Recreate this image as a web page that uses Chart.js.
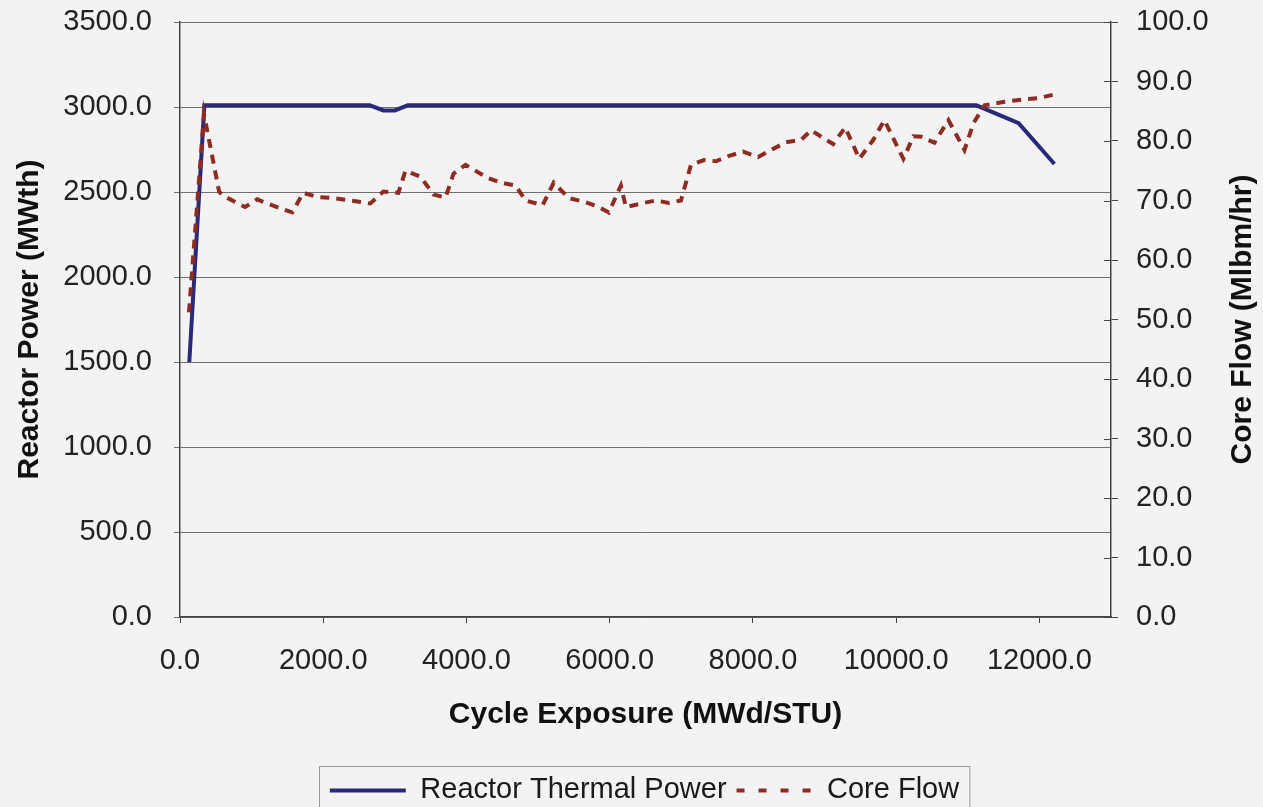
<!DOCTYPE html>
<html>
<head>
<meta charset="utf-8">
<title>Reactor Power and Core Flow</title>
<script src="https://cdn.jsdelivr.net/npm/chart.js@4/dist/chart.umd.min.js"></script>
<style>
  body { margin: 0; background: #f3f3f3; overflow: hidden; }
  #wrap { width: 1263px; height: 807px; overflow: hidden; }
</style>
</head>
<body>
<div id="wrap"><canvas id="chart" width="1263" height="814"></canvas></div>
<script>
// reactor thermal power vs cycle exposure
const powerExposure = [130, 340, 2650, 2840, 3000, 3180, 11120, 11710, 12210];
const reactorPower = [1500, 3010, 3010, 2980, 2980, 3010, 3010, 2905, 2665];

// core flow vs cycle exposure
const flowExposure = [
  125, 335, 546, 602, 909, 1077, 1329, 1567, 1721, 1917,
  2140, 2378, 2658, 2840, 3050, 3148, 3358, 3540, 3707, 3819,
  3987, 4295, 4477, 4687, 4827, 5064, 5218, 5428, 5638, 5834,
  5988, 6156, 6226, 6477, 6645, 6827, 6995, 7135, 7317, 7485,
  7667, 7862, 8072, 8254, 8464, 8674, 8814, 8982, 9121, 9289,
  9485, 9681, 9835, 10101, 10241, 10353, 10534, 10730, 10954, 11080,
  11234, 11514, 11794, 11989, 12199
];
const coreFlow = [
  51.2, 84.5, 71.5, 70.8, 68.9, 70.2, 69.0, 68.0, 71.3, 70.6,
  70.4, 70.0, 69.5, 71.5, 71.3, 75.0, 74.0, 71.0, 70.5, 74.5,
  76.0, 73.8, 73.0, 72.5, 70.0, 69.2, 73.0, 70.4, 69.8, 69.0,
  68.0, 72.5, 68.9, 69.6, 70.0, 69.6, 70.0, 76.0, 76.8, 76.6,
  77.5, 78.2, 77.3, 78.5, 79.8, 80.2, 81.8, 80.5, 79.5, 82.3,
  77.0, 80.2, 83.5, 77.0, 80.8, 80.7, 79.7, 83.5, 78.5, 83.0,
  86.0, 86.6, 87.0, 87.2, 87.8
];

// axis ticks
const xTickValues = [0, 2000, 4000, 6000, 8000, 10000, 12000];
const xMax = 13000;
const seriesNames = ['Reactor Thermal Power', 'Core Flow'];
const axisTitles = ['Cycle Exposure (MWd/STU)', 'Reactor Power (MWth)', 'Core Flow (Mlbm/hr)'];

const FONT = '"Liberation Sans", Arial, sans-serif';
const fmt = v => Number(v).toFixed(1);
const LEGEND_LINE = 76;

// keep the plot top where the reference has it
const fixVertical = width => s => {
  s.width = width;
  s.paddingTop = 22;
  s.paddingBottom = 20;
};

// extra drawing: inside ticks on right axis, vertical titles, legend samples and frame
const extras = {
  id: 'extras',
  afterDraw(chart) {
    const ctx = chart.ctx;
    const area = chart.chartArea;
    const y2 = chart.scales.y2;
    ctx.save();
    ctx.strokeStyle = '#444';
    ctx.lineWidth = 1;
    y2.ticks.forEach((t, i) => {
      const py = Math.round(y2.getPixelForTick(i)) + 0.5;
      ctx.beginPath();
      ctx.moveTo(y2.left - 7, py);
      ctx.lineTo(y2.left, py);
      ctx.stroke();
    });

    // both vertical titles read bottom to top
    ctx.fillStyle = '#111';
    ctx.font = 'bold 30px ' + FONT;
    ctx.textAlign = 'center';
    ctx.textBaseline = 'middle';
    const midY = (area.top + area.bottom) / 2;
    [[30, axisTitles[1]], [1243, axisTitles[2]]].forEach(([tx, text]) => {
      ctx.save();
      ctx.translate(tx, midY);
      ctx.rotate(-Math.PI / 2);
      ctx.fillText(text, 0, 0);
      ctx.restore();
    });

    // legend
    const boxes = chart.legend.legendHitBoxes;
    if (boxes && boxes.length) {
      chart.data.datasets.forEach((ds, i) => {
        const b = boxes[i];
        const ly = Math.round(b.top + b.height / 2) + 0.5;
        ctx.strokeStyle = ds.borderColor;
        ctx.lineWidth = ds.borderWidth;
        ctx.setLineDash(ds.borderDash ? [8, 14] : []);
        ctx.beginPath();
        ctx.moveTo(b.left, ly);
        ctx.lineTo(b.left + LEGEND_LINE, ly);
        ctx.stroke();
      });
      ctx.setLineDash([]);
      const l = Math.min(...boxes.map(b => b.left)) - 11;
      const r = Math.max(...boxes.map(b => b.left + b.width)) + 10;
      const t = boxes[0].top - 9;
      ctx.strokeStyle = '#9a9a9a';
      ctx.lineWidth = 1;
      ctx.strokeRect(Math.round(l) + 0.5, Math.round(t) + 0.5, r - l, 60);
    }
    ctx.restore();
  }
};

new Chart(document.getElementById('chart'), {
  type: 'line',
  data: {
    datasets: [
      {
        label: seriesNames[0],
        data: powerExposure.map((x, i) => ({ x, y: reactorPower[i] })),
        yAxisID: 'y',
        borderColor: '#29297a',
        backgroundColor: '#29297a',
        borderWidth: 4,
        pointRadius: 0,
        tension: 0,
        order: 2
      },
      {
        label: seriesNames[1],
        data: flowExposure.map((x, i) => ({ x, y: coreFlow[i] })),
        yAxisID: 'y2',
        borderColor: '#8e2b22',
        backgroundColor: '#8e2b22',
        borderWidth: 4,
        borderDash: [9, 7],
        pointRadius: 0,
        tension: 0,
        order: 1
      }
    ]
  },
  options: {
    responsive: false,
    animation: false,
    layout: { padding: { top: 0, left: 26, right: 0, bottom: 0 } },
    plugins: {
      tooltip: { enabled: false },
      legend: {
        position: 'bottom',
        labels: {
          boxWidth: LEGEND_LINE,
          boxHeight: 4,
          padding: 10,
          color: '#1a1a1a',
          font: { family: FONT, size: 29 },
          sort: (a, b) => a.datasetIndex - b.datasetIndex,
          generateLabels: chart => Chart.defaults.plugins.legend.labels.generateLabels(chart)
            .map(item => Object.assign(item, { fillStyle: 'rgba(0,0,0,0)', strokeStyle: 'rgba(0,0,0,0)', lineWidth: 0 }))
        }
      }
    },
    scales: {
      x: {
        type: 'linear',
        min: 0,
        max: xMax,
        afterFit: s => { s.height = 148; },
        afterBuildTicks: s => { s.ticks = xTickValues.map(v => ({ value: v })); },
        ticks: {
          padding: 21,
          color: '#222',
          font: { family: FONT, size: 29 },
          callback: fmt
        },
        grid: { drawOnChartArea: false, tickLength: 6, color: '#444' },
        border: { color: '#444', width: 1.5 },
        title: {
          display: true,
          text: axisTitles[0],
          color: '#111',
          font: { family: FONT, size: 30, weight: 'bold' },
          padding: { top: 0, bottom: 32 }
        }
      },
      y: {
        position: 'left',
        min: 0,
        max: 3500,
        afterFit: fixVertical(154),
        ticks: {
          stepSize: 500,
          padding: 22,
          color: '#222',
          font: { family: FONT, size: 29 },
          callback: fmt
        },
        grid: { color: '#707070', lineWidth: 1, tickLength: 6 },
        border: { color: '#444', width: 1.5 }
      },
      y2: {
        position: 'right',
        min: 0,
        max: 100,
        afterFit: fixVertical(152),
        ticks: {
          stepSize: 10,
          padding: 18,
          color: '#222',
          font: { family: FONT, size: 29 },
          callback: fmt
        },
        grid: { drawOnChartArea: false, tickLength: 7, color: '#444' },
        border: { color: '#444', width: 1.5 }
      }
    }
  },
  plugins: [extras]
});
</script>
</body>
</html>
